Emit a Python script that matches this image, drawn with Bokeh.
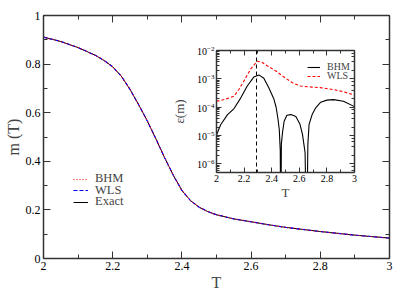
from bokeh.plotting import figure
from bokeh.models import (Range1d, LinearAxis, LogAxis, SingleIntervalTicker, LogTicker,
                          CustomJSTickFormatter, Legend, LegendItem, Span)
from bokeh.layouts import column
from bokeh.embed import file_html
from bokeh.resources import INLINE

# ---------------- data: main panel ----------------
T_main = [2.00, 2.05, 2.10, 2.15, 2.175, 2.20, 2.225, 2.25, 2.275, 2.30, 2.325, 2.35,
          2.375, 2.40, 2.425, 2.45, 2.475, 2.50, 2.55, 2.60, 2.65, 2.70, 2.80, 2.90, 3.00]
m_exact = [0.911, 0.893, 0.868, 0.836, 0.815, 0.789, 0.750, 0.696, 0.633, 0.566, 0.492, 0.415,
           0.343, 0.280, 0.238, 0.211, 0.193, 0.180, 0.163, 0.151, 0.139, 0.128, 0.111, 0.096, 0.084]
m_bhm = list(m_exact)
m_wls = list(m_exact)

# ---------------- data: inset (relative error) ----------------
T_bhm = [2.000, 2.030, 2.080, 2.127, 2.175, 2.223, 2.271, 2.307, 2.343, 2.379, 2.415, 2.432,
         2.445, 2.455, 2.462, 2.466, 2.470, 2.478, 2.490, 2.510, 2.540, 2.575, 2.605, 2.623,
         2.642, 2.653, 2.662, 2.671, 2.693, 2.719, 2.755, 2.800, 2.848, 2.920, 3.000]
eps_bhm = [1.05e-5, 2.4e-5, 5.5e-5, 9.0e-5, 2.1e-4, 5.6e-4, 1.17e-3, 1.38e-3, 1.05e-3, 4.9e-4,
           2.0e-4, 1.0e-4, 4.0e-5, 1.6e-5, 3.0e-6, 1e-9, 5.0e-6, 1.25e-5, 3.2e-5, 5.2e-5,
           5.5e-5, 4.7e-5, 2.5e-5, 1.1e-5, 2.5e-6, 1e-9, 5.0e-6, 2.5e-5, 5.5e-5, 9.5e-5,
           1.5e-4, 1.78e-4, 1.86e-4, 1.62e-4, 1.05e-4]
T_wls = [2.000, 2.055, 2.127, 2.163, 2.199, 2.247, 2.295, 2.331, 2.367, 2.427, 2.487, 2.547,
         2.607, 2.679, 2.751, 2.848, 2.920, 3.000]
eps_wls = [1.62e-4, 1.86e-4, 2.45e-4, 4.3e-4, 8.5e-4, 2.2e-3, 4.2e-3, 3.8e-3, 2.9e-3, 1.94e-3,
           1.18e-3, 7.4e-4, 5.6e-4, 5.2e-4, 4.9e-4, 4.2e-4, 3.5e-4, 2.7e-4]
T_c = 2.29

SERIF = "Liberation Serif"
AX = "#333333"
W, H = 415, 293

fmt = CustomJSTickFormatter(code="return String(Math.round(tick*10)/10);")
blank = CustomJSTickFormatter(code="return '';")


def style_axis(ax, major_in, minor_in, label_size, show_labels=True):
    ax.axis_line_color = AX
    ax.axis_line_width = 1.5
    ax.major_tick_line_color = AX
    ax.minor_tick_line_color = AX
    ax.major_tick_in = major_in
    ax.major_tick_out = 0
    ax.minor_tick_in = minor_in
    ax.minor_tick_out = 0
    ax.major_label_text_font = SERIF
    ax.axis_label_text_font = SERIF
    ax.axis_label_text_font_style = "normal"
    ax.major_label_text_color = "black"
    if show_labels:
        ax.major_label_text_font_size = label_size
    else:
        ax.formatter = blank
        ax.major_label_text_font_size = "1px"
        ax.major_label_standoff = 0


def one_legend(fig, label, renderer, x, y, size, gw, standoff):
    fig.add_layout(Legend(items=[LegendItem(label=label, renderers=[renderer])],
                          location=(x, y), padding=0, margin=0, spacing=0,
                          glyph_width=gw, glyph_height=8, label_height=8,
                          label_standoff=standoff, label_text_font=SERIF,
                          label_text_font_size=size, border_line_alpha=0,
                          background_fill_alpha=0))


# ---------------- main figure ----------------
p = figure(width=W, height=H, x_range=Range1d(2, 3), y_range=Range1d(0, 1),
           output_backend="svg", toolbar_location=None, frame_align=False,
           min_border_left=43, min_border_right=26, min_border_top=15, min_border_bottom=35)
p.outline_line_color = None
p.grid.visible = False
p.background_fill_color = "white"
p.border_fill_color = "white"

p.xaxis.ticker = SingleIntervalTicker(interval=0.2, num_minor_ticks=2)
p.yaxis.ticker = SingleIntervalTicker(interval=0.2, num_minor_ticks=2)
p.xaxis.formatter = fmt
p.yaxis.formatter = fmt
style_axis(p.xaxis[0], 7, 4, "12px")
style_axis(p.yaxis[0], 7, 4, "12px")
p.xaxis.axis_label = "T"
p.yaxis.axis_label = "m (T)"
p.xaxis.axis_label_text_font_size = "16px"
p.yaxis.axis_label_text_font_size = "16px"
p.xaxis.axis_label_standoff = 1
p.yaxis.axis_label_standoff = 1
p.xaxis.major_label_standoff = 3
p.yaxis.major_label_standoff = 3

top = LinearAxis(ticker=SingleIntervalTicker(interval=0.2, num_minor_ticks=2))
right = LinearAxis(ticker=SingleIntervalTicker(interval=0.2, num_minor_ticks=2))
style_axis(top, 7, 4, "1px", show_labels=False)
style_axis(right, 7, 4, "1px", show_labels=False)
p.add_layout(top, "above")
p.add_layout(right, "right")

r_ex = p.line(T_main, m_exact, line_color="black", line_width=1.0)
r_wls = p.line(T_main, m_wls, line_color="blue", line_width=1.1, line_dash="4 2")
r_bhm = p.line(T_main, m_bhm, line_color="red", line_width=1.1, line_dash="1 2")

one_legend(p, "BHM", r_bhm, 30, 72, "12.5px", 15, 7)
one_legend(p, "WLS", r_wls, 30, 60.5, "12.5px", 15, 7)
one_legend(p, "Exact", r_ex, 30, 49, "12.5px", 15, 7)

# ---------------- inset figure ----------------
IL, IT, IW, IH = 160, 38, 212, 168
q = figure(width=IW, height=IH, x_range=Range1d(2, 3), y_range=Range1d(5e-7, 1e-2),
           y_axis_type="log", output_backend="svg", toolbar_location=None, frame_align=False,
           min_border_left=56, min_border_right=18, min_border_top=12, min_border_bottom=34,
           margin=(IT - H, 0, H - IT - IH, IL))
q.outline_line_color = None
q.grid.visible = False
q.background_fill_color = "white"
q.border_fill_alpha = 0
q.xaxis.ticker = SingleIntervalTicker(interval=0.2, num_minor_ticks=2)
q.xaxis.formatter = fmt
style_axis(q.xaxis[0], 5, 3, "10px")
style_axis(q.yaxis[0], 5, 3, "10px")
q.xaxis.axis_label = "T"
q.yaxis.axis_label = "ε(m)"
q.xaxis.axis_label_text_font_size = "13px"
q.yaxis.axis_label_text_font_size = "13px"
q.xaxis.axis_label_standoff = 0
q.yaxis.axis_label_standoff = 7
q.xaxis.major_label_standoff = 2
q.yaxis.major_label_standoff = 2

qtop = LinearAxis(ticker=SingleIntervalTicker(interval=0.2, num_minor_ticks=2))
qright = LogAxis(ticker=LogTicker())
style_axis(qtop, 5, 3, "1px", show_labels=False)
style_axis(qright, 5, 3, "1px", show_labels=False)
q.add_layout(qtop, "above")
q.add_layout(qright, "right")

q.add_layout(Span(location=T_c, dimension="height", line_color="black",
                  line_dash="4 3", line_width=1))
rb = q.line(T_bhm, eps_bhm, line_color="black", line_width=1.1)
rw = q.line(T_wls, eps_wls, line_color="red", line_width=1.1, line_dash="3 2")

one_legend(q, "BHM", rb, 91, 100, "10px", 13, 7)
one_legend(q, "WLS", rw, 91, 91, "10px", 13, 7)

layout = column(p, q, spacing=0)
open("out.html", "w").write(file_html(layout, INLINE))
